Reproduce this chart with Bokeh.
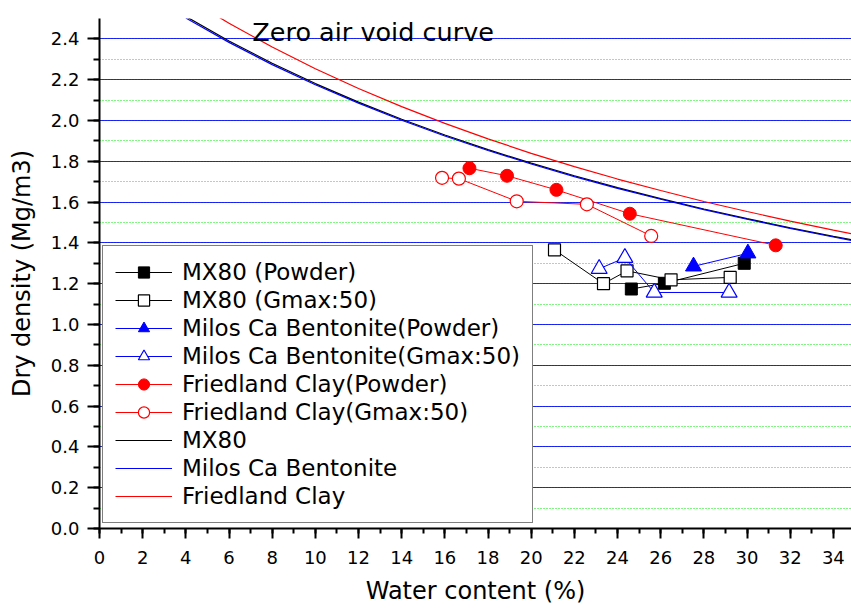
from bokeh.plotting import figure
from bokeh.models import (Legend, LegendItem, Label, SingleIntervalTicker,
                          Range1d, PrintfTickFormatter)
from bokeh.embed import file_html
from bokeh.resources import INLINE

# ---- measured data (water content %, dry density Mg/m3) ----
mx80_pow_w = [24.64, 26.17, 29.87]
mx80_pow_d = [1.174, 1.202, 1.300]

mx80_g50_w = [21.08, 23.35, 24.44, 26.48, 29.22]
mx80_g50_d = [1.366, 1.200, 1.263, 1.219, 1.231]

milos_pow_w = [27.52, 30.04]
milos_pow_d = [1.285, 1.349]

milos_g50_w = [23.15, 24.34, 25.70, 29.17]
milos_g50_d = [1.273, 1.327, 1.157, 1.157]

fried_pow_w = [17.14, 18.88, 21.17, 24.57, 31.33]
fried_pow_d = [1.766, 1.729, 1.660, 1.543, 1.388]

fried_g50_w = [15.87, 16.65, 19.33, 22.58, 25.56]
fried_g50_d = [1.719, 1.715, 1.604, 1.589, 1.434]

# ---- zero air void curves ----
zav_mx80_w = [4, 6, 8, 10, 12, 14, 16, 18, 20, 22, 24, 26, 28, 30, 32, 34, 35]
zav_mx80_d = [2.510, 2.390, 2.281, 2.181, 2.090, 2.006, 1.929, 1.857, 1.791,
              1.729, 1.671, 1.617, 1.566, 1.519, 1.474, 1.432, 1.412]

zav_milos_w = [4, 6, 8, 10, 12, 14, 16, 18, 20, 22, 24, 26, 28, 30, 32, 34, 35]
zav_milos_d = [2.502, 2.383, 2.274, 2.175, 2.085, 2.001, 1.924, 1.853, 1.787,
               1.725, 1.667, 1.614, 1.563, 1.516, 1.471, 1.429, 1.409]

zav_fried_w = [5, 6, 8, 10, 12, 14, 16, 18, 20, 22, 24, 26, 28, 30, 32, 34, 35]
zav_fried_d = [2.540, 2.477, 2.360, 2.254, 2.157, 2.068, 1.986, 1.910, 1.839,
               1.774, 1.713, 1.657, 1.603, 1.554, 1.507, 1.463, 1.442]

labels = ["MX80 (Powder)", "MX80 (Gmax:50)", "Milos Ca Bentonite(Powder)",
          "Milos Ca Bentonite(Gmax:50)", "Friedland Clay(Powder)",
          "Friedland Clay(Gmax:50)", "MX80", "Milos Ca Bentonite", "Friedland Clay"]

FONT = "DejaVu Sans"

p = figure(width=851, height=610, x_range=Range1d(0, 34.84), y_range=Range1d(0, 2.5),
           output_backend="svg", toolbar_location=None,
           min_border_left=99, min_border_right=0, min_border_top=18, min_border_bottom=82)
p.outline_line_color = None
p.background_fill_color = "white"

xt = SingleIntervalTicker(interval=2, num_minor_ticks=2)
yt = SingleIntervalTicker(interval=0.2, num_minor_ticks=2)
p.xaxis.ticker = xt
p.yaxis.ticker = yt
p.xgrid.visible = False
p.ygrid.ticker = yt
p.ygrid.grid_line_color = "#0000ff"
p.ygrid.grid_line_width = 1
p.ygrid.grid_line_alpha = 0.85
p.ygrid.minor_grid_line_color = "#00ee00"
p.ygrid.minor_grid_line_dash = "1 2"
p.ygrid.minor_grid_line_width = 1.2

p.yaxis.formatter = PrintfTickFormatter(format="%.1f")
for ax in (p.xaxis, p.yaxis):
    ax.axis_line_width = 2
    ax.axis_line_color = "black"
    ax.major_tick_line_width = 2
    ax.minor_tick_line_width = 2
    ax.major_tick_in = 0
    ax.minor_tick_in = 0
    ax.major_label_text_font = FONT
    ax.major_label_text_font_size = "18px"
    ax.major_label_text_color = "black"
    ax.axis_label_text_font = FONT
    ax.axis_label_text_font_size = "24px"
    ax.axis_label_text_font_style = "normal"
    ax.axis_label_text_color = "black"
p.xaxis.major_tick_out = 10
p.xaxis.minor_tick_out = 5
p.yaxis.major_tick_out = 12
p.yaxis.minor_tick_out = 6
p.xaxis.major_label_standoff = 12
p.yaxis.major_label_standoff = 8
p.xaxis.axis_label = "Water content (%)"
p.yaxis.axis_label = "Dry density (Mg/m3)"
p.xaxis.axis_label_standoff = 10
p.yaxis.axis_label_standoff = 12

# zero air void curves
c1 = p.line(zav_mx80_w, zav_mx80_d, line_color="black", line_width=1.2)
c2 = p.line(zav_milos_w, zav_milos_d, line_color="#0000ff", line_width=1.2)
c3 = p.line(zav_fried_w, zav_fried_d, line_color="#ff0000", line_width=1.2)

# data series
l1 = p.line(mx80_pow_w, mx80_pow_d, line_color="black", line_width=1)
s1 = p.scatter(mx80_pow_w, mx80_pow_d, marker="square", size=12,
               fill_color="black", line_color="black")
l2 = p.line(mx80_g50_w, mx80_g50_d, line_color="black", line_width=1)
s2 = p.scatter(mx80_g50_w, mx80_g50_d, marker="square", size=12,
               fill_color="white", line_color="black", line_width=1.2)
l3 = p.line(milos_pow_w, milos_pow_d, line_color="#0000ff", line_width=1)
s3 = p.scatter(milos_pow_w, milos_pow_d, marker="triangle", size=16,
               fill_color="#0000ff", line_color="#0000ff")
l4 = p.line(milos_g50_w, milos_g50_d, line_color="#0000ff", line_width=1)
s4 = p.scatter(milos_g50_w, milos_g50_d, marker="triangle", size=16,
               fill_color="white", line_color="#0000ff", line_width=1.2)
l5 = p.line(fried_pow_w, fried_pow_d, line_color="#ff0000", line_width=1)
s5 = p.scatter(fried_pow_w, fried_pow_d, marker="circle", size=13,
               fill_color="#ff0000", line_color="#ff0000")
l6 = p.line(fried_g50_w, fried_g50_d, line_color="#ff0000", line_width=1)
s6 = p.scatter(fried_g50_w, fried_g50_d, marker="circle", size=13,
               fill_color="white", line_color="#ff0000", line_width=1.2)

items = [
    LegendItem(label=labels[0], renderers=[l1, s1]),
    LegendItem(label=labels[1], renderers=[l2, s2]),
    LegendItem(label=labels[2], renderers=[l3, s3]),
    LegendItem(label=labels[3], renderers=[l4, s4]),
    LegendItem(label=labels[4], renderers=[l5, s5]),
    LegendItem(label=labels[5], renderers=[l6, s6]),
    LegendItem(label=labels[6], renderers=[c1]),
    LegendItem(label=labels[7], renderers=[c2]),
    LegendItem(label=labels[8], renderers=[c3]),
]
legend = Legend(items=items, location=(3, 5), margin=0, padding=12, spacing=0,
                glyph_width=57, glyph_height=28, label_height=28, label_standoff=10,
                label_text_font=FONT, label_text_font_size="23px", label_text_color="black",
                border_line_color="black", border_line_width=1,
                background_fill_color="white", background_fill_alpha=1.0)
p.add_layout(legend)

p.add_layout(Label(x=7.08, y=2.433, text="Zero air void curve", text_font=FONT,
                   text_font_size="25.5px", text_color="black",
                   text_baseline="alphabetic"))

open("out.html", "w").write(file_html(p, INLINE))
